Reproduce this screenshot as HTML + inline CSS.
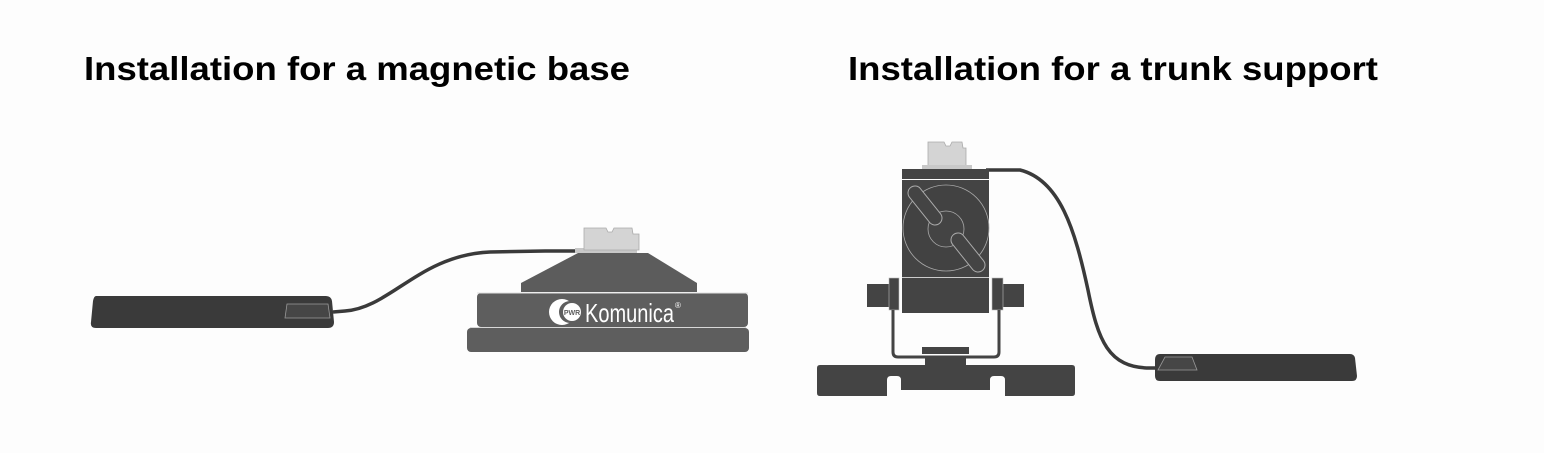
<!DOCTYPE html>
<html><head><meta charset="utf-8"><style>
html,body{margin:0;padding:0;background:#fdfdfd;}
svg{display:block;}
</style></head><body>
<svg width="1544" height="453" viewBox="0 0 1544 453" xmlns="http://www.w3.org/2000/svg">
<rect width="1544" height="453" fill="#fdfdfd"/>
<text x="84" y="80" font-family="Liberation Sans, sans-serif" font-weight="bold" font-size="33" textLength="546" lengthAdjust="spacingAndGlyphs" fill="#000">Installation for a magnetic base</text>
<text x="848" y="80" font-family="Liberation Sans, sans-serif" font-weight="bold" font-size="33" textLength="530" lengthAdjust="spacingAndGlyphs" fill="#000">Installation for a trunk support</text>

<!-- LEFT: pad -->
<path d="M96 296 L326 296 Q331 296 332 301 L334 322 Q334 328 328 328 L96 328 Q90 328 91 322 L93 301 Q94 296 96 296Z" fill="#3a3a3a"/>
<path d="M287 304 L328 304 L330 318 L285 318Z" fill="#464646" stroke="#9a9a9a" stroke-width="0.8"/>
<!-- cable -->
<path d="M333 312 L345 311 C390 308 420 255 490 252 L545 251 L585 251" fill="none" stroke="#3a3a3a" stroke-width="3.5"/>
<!-- connector -->
<rect x="575" y="248" width="62" height="5" fill="#c8c8c8"/>
<path d="M584 228 L606 228 L608 232 L612 232 L614 228 L632 228 L633 234 L639 234 L639 250 L584 250Z" fill="#d4d4d4" stroke="#aaa" stroke-width="0.8"/>
<!-- dome -->
<path d="M578 253 L648 253 L697 283 L697 292 L521 292 L521 283Z" fill="#5c5c5c"/>
<!-- middle band -->
<rect x="477" y="293" width="271" height="34" rx="4" fill="#5e5e5e"/>
<line x1="477" y1="293" x2="748" y2="293" stroke="#e0e0e0" stroke-width="1"/>
<rect x="467" y="328" width="282" height="24" rx="4" fill="#5e5e5e"/>
<line x1="470" y1="327.5" x2="746" y2="327.5" stroke="#d8d8d8" stroke-width="1"/>
<!-- logo -->
<circle cx="562" cy="312" r="13" fill="#fff"/>
<circle cx="570" cy="312" r="11" fill="#5e5e5e"/>
<circle cx="572" cy="312" r="9" fill="#fff"/>
<text x="572" y="315" font-family="Liberation Sans, sans-serif" font-size="7" font-weight="bold" text-anchor="middle" fill="#5e5e5e">PWR</text>
<text x="585" y="322" font-family="Liberation Sans, sans-serif" font-size="26" fill="#fff" textLength="89" lengthAdjust="spacingAndGlyphs">Komunica</text>
<text x="675" y="308" font-family="Liberation Sans, sans-serif" font-size="8" fill="#fff">®</text>

<!-- RIGHT device -->
<path d="M986 170 L1020 170 C1060 180 1075 230 1088 290 C1098 340 1108 368 1150 368 L1160 368" fill="none" stroke="#3a3a3a" stroke-width="3.5"/>
<path d="M928 142 L944 142 L946 146 L950 146 L952 142 L962 142 L963 148 L966 148 L966 166 L928 166Z" fill="#d4d4d4" stroke="#aaa" stroke-width="0.8"/>
<rect x="922" y="165" width="50" height="4" fill="#c8c8c8"/>
<rect x="902" y="169" width="87" height="10" fill="#444"/>
<rect x="902" y="180" width="87" height="97" fill="#444"/>
<circle cx="946" cy="228" r="43" fill="#424242" stroke="#aaa" stroke-width="0.8"/>
<circle cx="946" cy="229" r="18" fill="#444" stroke="#aaa" stroke-width="0.8"/>
<line x1="915" y1="193" x2="935" y2="218" stroke="#aaa" stroke-width="15" stroke-linecap="round"/>
<line x1="915" y1="193" x2="935" y2="218" stroke="#444" stroke-width="13" stroke-linecap="round"/>
<line x1="958" y1="240" x2="978" y2="265" stroke="#aaa" stroke-width="15" stroke-linecap="round"/>
<line x1="958" y1="240" x2="978" y2="265" stroke="#444" stroke-width="13" stroke-linecap="round"/>
<line x1="902" y1="277.5" x2="989" y2="277.5" stroke="#ccc" stroke-width="1"/>
<rect x="902" y="278" width="87" height="35" fill="#444"/>
<rect x="867" y="284" width="22" height="23" fill="#444"/>
<rect x="889" y="278" width="10" height="32" fill="#444" stroke="#bbb" stroke-width="0.6"/>
<rect x="1003" y="284" width="21" height="23" fill="#444"/>
<rect x="992" y="278" width="11" height="32" fill="#444" stroke="#bbb" stroke-width="0.6"/>
<path d="M893 310 L893 352 Q893 357 898 357 L994 357 Q999 357 999 352 L999 310" fill="none" stroke="#444" stroke-width="3"/>
<rect x="922" y="347" width="47" height="7" fill="#444"/>
<rect x="925" y="358" width="41" height="7" fill="#444"/>
<!-- base -->
<path d="M820 365 L1072 365 Q1075 365 1075 368 L1075 393 Q1075 396 1072 396 L1005 396 L1005 380 Q1005 376 1001 376 L994 376 Q990 376 990 380 L990 390 L901 390 L901 380 Q901 376 897 376 L891 376 Q887 376 887 380 L887 396 L820 396 Q817 396 817 393 L817 368 Q817 365 820 365Z" fill="#444"/>
<!-- right pad -->
<path d="M1160 354 L1350 354 Q1354 354 1355 358 L1357 376 Q1357 381 1352 381 L1160 381 Q1155 381 1155 376 L1155 360 Q1155 354 1160 354Z" fill="#3a3a3a"/>
<path d="M1165 357 L1192 357 L1197 370 L1158 370Z" fill="#464646" stroke="#999" stroke-width="0.8"/>
</svg>
</body></html>
